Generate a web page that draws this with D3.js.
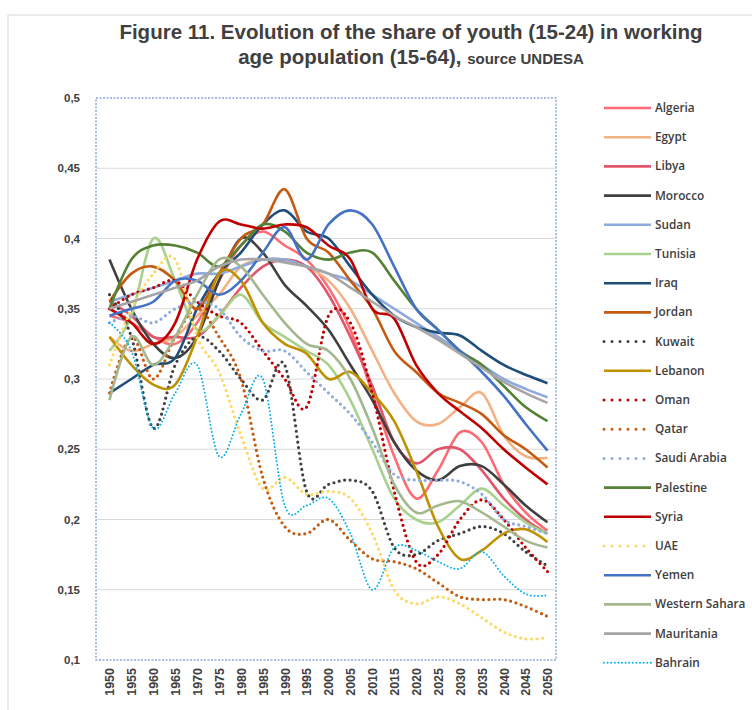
<!DOCTYPE html>
<html><head><meta charset="utf-8">
<script src="https://cdn.jsdelivr.net/npm/d3@7"></script>
<style>
body{margin:0;background:#fff;}
svg{display:block;font-family:"Open Sans","Noto Sans",Arial,sans-serif;}
</style></head>
<body><svg id="chart" width="752" height="710"></svg>
<script>
const years = d3.range(1950, 2051, 5);
const yTicks = [0.1,0.15,0.2,0.25,0.3,0.35,0.4,0.45,0.5];
const countries = ["Algeria","Egypt","Libya","Morocco","Sudan","Tunisia","Iraq","Jordan","Kuwait","Lebanon","Oman","Qatar","Saudi Arabia","Palestine","Syria","UAE","Yemen","Western Sahara","Mauritania","Bahrain"];
const colors = ["#FF6B74","#F4B183","#E0566A","#404040","#8FAADC","#A9D18E","#1F4E79","#C55A11","#404040","#BF9000","#C00000","#C55A11","#8FAADC","#548235","#C00000","#FFD966","#4472C4","#A3B88E","#A5A5A5","#00B0F0"];
const dotted = [false,false,false,false,false,false,false,false,true,false,true,true,true,false,false,true,false,false,false,true];

const algeria   = [.345,.34,.33,.325,.34,.37,.395,.405,.395,.385,.365,.335,.29,.245,.215,.235,.262,.255,.225,.205,.192];
const egypt     = [.33,.32,.325,.33,.345,.36,.38,.385,.385,.38,.37,.35,.32,.29,.27,.268,.28,.29,.26,.245,.244];
const libya     = [.355,.345,.33,.33,.33,.345,.365,.38,.385,.38,.36,.33,.295,.255,.24,.25,.25,.235,.215,.2,.19];
const morocco   = [.385,.35,.325,.315,.33,.37,.40,.39,.367,.352,.335,.31,.285,.255,.235,.228,.238,.238,.225,.21,.198];
const sudan     = [.355,.36,.365,.37,.375,.375,.38,.385,.385,.38,.375,.37,.36,.35,.34,.33,.32,.31,.30,.293,.287];
const tunisia   = [.32,.345,.40,.37,.335,.345,.36,.34,.33,.32,.31,.285,.25,.215,.20,.198,.21,.222,.21,.198,.19];
const iraq      = [.29,.30,.31,.315,.35,.375,.39,.41,.42,.405,.40,.38,.36,.345,.337,.333,.331,.32,.31,.303,.297];
const jordan    = [.355,.375,.38,.37,.35,.375,.40,.41,.435,.40,.39,.37,.35,.32,.305,.29,.283,.275,.26,.25,.237];
const kuwait    = [.36,.33,.265,.31,.33,.32,.30,.285,.31,.22,.225,.228,.22,.18,.175,.185,.19,.195,.19,.177,.167];
const lebanon   = [.33,.31,.296,.296,.33,.375,.37,.34,.325,.318,.30,.305,.29,.27,.235,.195,.172,.178,.19,.193,.184];
const oman      = [.35,.36,.365,.37,.355,.345,.34,.32,.30,.28,.345,.34,.29,.22,.17,.175,.20,.214,.20,.18,.163];
const qatar     = [.29,.33,.30,.33,.35,.33,.30,.23,.195,.19,.20,.185,.172,.17,.165,.155,.145,.143,.143,.138,.131];
const saudi     = [.34,.345,.34,.35,.355,.35,.33,.32,.32,.305,.29,.275,.255,.232,.228,.228,.227,.218,.20,.195,.19];
const palestine = [.35,.385,.395,.395,.39,.38,.395,.41,.405,.39,.385,.39,.39,.37,.35,.335,.32,.31,.295,.28,.27];
const syria     = [.35,.34,.325,.34,.385,.412,.41,.407,.41,.408,.395,.385,.35,.343,.31,.29,.277,.265,.25,.237,.225];
const uae       = [.31,.35,.375,.385,.33,.305,.26,.222,.23,.218,.22,.215,.19,.15,.14,.145,.14,.13,.12,.115,.116];
const yemen     = [.345,.35,.355,.37,.37,.36,.37,.39,.408,.385,.41,.42,.41,.38,.35,.335,.32,.305,.288,.268,.249];
const wsahara   = [.285,.33,.31,.33,.36,.385,.38,.36,.34,.325,.32,.30,.265,.225,.205,.21,.213,.205,.195,.185,.18];
const mauritania= [.35,.355,.36,.365,.37,.38,.385,.385,.383,.38,.375,.365,.355,.345,.337,.328,.318,.308,.298,.29,.283];
const bahrain   = [.34,.32,.265,.29,.31,.245,.275,.30,.21,.21,.215,.19,.15,.18,.178,.17,.165,.177,.16,.147,.146];

const seriesValues = [algeria,egypt,libya,morocco,sudan,tunisia,iraq,jordan,kuwait,lebanon,oman,qatar,saudi,palestine,syria,uae,yemen,wsahara,mauritania,bahrain];

const svg = d3.select("#chart");
const x = d3.scaleLinear().domain([1950,2050]).range([109.5,547.5]);
const y = d3.scaleLinear().domain([0.1,0.5]).range([660,98]);
const fmt = d => String(+d.toFixed(2)).replace(".", ",");

// faint frame of the screenshot
svg.append("rect").attr("x",8).attr("y",15).attr("width",760).attr("height",720)
  .attr("fill","none").attr("stroke","#e6e6e6").attr("stroke-width",1.5);

// title
const t = svg.append("text").attr("text-anchor","middle").attr("font-family","Arial, 'Liberation Sans', sans-serif")
  .attr("font-weight","bold").attr("fill","#404040");
t.append("tspan").attr("x",411).attr("y",39).attr("font-size",20.5).text("Figure 11. Evolution of the share of youth (15-24) in working");
const l2 = t.append("tspan").attr("x",411).attr("y",64).attr("font-size",20.5);
l2.append("tspan").text("age population (15-64), ");
l2.append("tspan").attr("font-size",15).text("source UNDESA");

// gridlines
svg.append("g").selectAll("line").data(yTicks.filter(v=>v>0.1 && v<0.5)).join("line")
  .attr("x1",96).attr("x2",556).attr("y1",d=>y(d)).attr("y2",d=>y(d))
  .attr("stroke","#D9D9D9").attr("stroke-width",1);

// y axis labels
const yAxis = d3.axisLeft(y).tickValues(yTicks).tickFormat(fmt).tickSize(0).tickPadding(0);
const gy = svg.append("g").attr("transform","translate(80,0)").call(yAxis);
gy.select(".domain").remove();
gy.selectAll("text").attr("font-size",11.5).attr("font-weight",600).attr("fill","#404040");

// x axis labels
const xAxis = d3.axisBottom(x).tickValues(years).tickFormat(d3.format("d")).tickSize(0);
const gx = svg.append("g").attr("transform","translate(0,665)").call(xAxis);
gx.select(".domain").remove();
gx.selectAll("text").attr("font-size",12.5).attr("font-weight",600).attr("fill","#404040")
  .attr("transform","rotate(-90)").attr("text-anchor","end").attr("dy","0.35em").attr("y",0).attr("x",-3);

// lines
const line = d3.line().x((d,i)=>x(years[i])).y(d=>y(d)).curve(d3.curveCardinal.tension(0));
const gl = svg.append("g");
seriesValues.forEach((vals,k)=>{
  const p = gl.append("path").attr("d",line(vals)).attr("fill","none")
    .attr("stroke",colors[k]).attr("stroke-linejoin","round");
  if (dotted[k]) {
    if (countries[k]==="Bahrain") p.attr("stroke-width",2).attr("stroke-dasharray","0,3.6").attr("stroke-linecap","round");
    else p.attr("stroke-width",3.2).attr("stroke-dasharray","0,5.5").attr("stroke-linecap","round");
  } else p.attr("stroke-width",2.6);
});

// plot border (dashed blue)
svg.append("rect").attr("x",96).attr("y",98).attr("width",460).attr("height",562)
  .attr("fill","none").attr("stroke","#8FA8D8").attr("stroke-width",1.5).attr("stroke-dasharray","2,1.5");

// legend
const lg = svg.append("g");
countries.forEach((c,k)=>{
  const yy = 108 + k*29.2;
  const ln = lg.append("line").attr("x1",604).attr("x2",651).attr("y1",yy).attr("y2",yy).attr("stroke",colors[k]);
  if (dotted[k]) {
    if (c==="Bahrain") ln.attr("stroke-width",2).attr("stroke-dasharray","0,3.6").attr("stroke-linecap","round");
    else ln.attr("stroke-width",3).attr("stroke-dasharray","0,8").attr("stroke-linecap","round");
  } else ln.attr("stroke-width",2.6);
  lg.append("text").attr("x",655).attr("y",yy+4).attr("font-size",11.8).attr("font-weight",600)
    .attr("fill","#404040").text(c);
});
</script></body></html>
